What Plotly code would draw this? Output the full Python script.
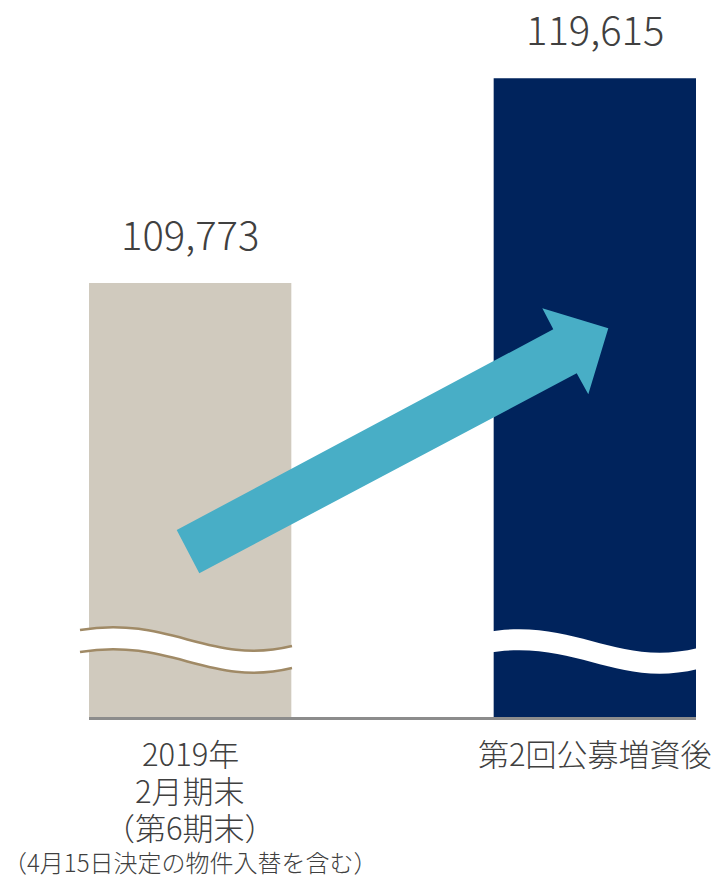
import plotly.graph_objects as go

# ---- data ----
category_lines = [["2019年", "2月期末", "（第6期末）", "（4月15日決定の物件入替を含む）"],
                  ["第2回公募増資後"]]
values = [109773, 119615]
value_labels = ["109,773", "119,615"]
bar_colors = ["#d0cabe", "#00235c"]

W, H = 719, 877
ML, MR, MT, MB = 89, 23, 0, 160
PW, PH = W - ML - MR, H - MT - MB

def px(x, y):
    """convert page pixel to paper coords"""
    return (x - ML) / PW, 1 - (y - MT) / PH

def path(cmds):
    out = []
    for c in cmds:
        if isinstance(c, str):
            out.append(c)
        else:
            xx, yy = px(*c)
            out.append(f"{xx:.5f},{yy:.5f}")
    return " ".join(out)

xs = list(range(len(values)))
fig = go.Figure()
fig.add_trace(go.Bar(x=xs, y=values, width=0.5, marker=dict(color=bar_colors, line=dict(width=0)),
                     hoverinfo="skip"))

FONT = "Noto Sans CJK JP Light, Noto Sans CJK JP"
TXT = "#404040"

for i, (v, t) in enumerate(zip(values, value_labels)):
    fig.add_annotation(x=i, y=v, xref="x", yref="y", text=t, showarrow=False,
                       yanchor="bottom", yshift=20, borderpad=0,
                       font=dict(family=FONT, size=40, color=TXT, weight=300))

# category labels, one annotation per line
for i, lines in enumerate(category_lines):
    for k, ln in enumerate(lines):
        last_small = (len(lines) > 1 and k == len(lines) - 1)
        fig.add_annotation(x=i, y=0, xref="x", yref="paper", text=ln, showarrow=False,
                           yanchor="middle", yshift=-(35 + 37 * k) + (2 if last_small else 0),
                           borderpad=0,
                           font=dict(family=FONT, size=24 if last_small else 31, color=TXT, weight=300))

shapes = []
def wave(x0, y0, dx=0, dy=0):
    return [(80 + dx, y0 + dy), (170 + dx, y0 - 15 + dy), (210 + dx, y0 + 36 + dy), (292 + dx, y0 + 16 + dy)]

def band(dx, dy, gap):
    a = wave(0, 630, dx, dy)
    b = wave(0, 630 + gap, dx, dy)
    return path(["M", a[0], "C", a[1], a[2], a[3], "L", b[3], "C", b[2], b[1], b[0], "Z"])

# wave break, left bar
shapes.append(dict(type="path", xref="paper", yref="paper", path=band(0, 0, 22),
                   fillcolor="white", line=dict(width=0)))
for g in (0, 22):
    a = wave(0, 630 + g)
    shapes.append(dict(type="path", xref="paper", yref="paper",
                       path=path(["M", a[0], "C", a[1], a[2], a[3]]),
                       line=dict(color="#a08a66", width=2.5)))
# wave break, right bar
shapes.append(dict(type="path", xref="paper", yref="paper", path=band(406, 2, 21),
                   fillcolor="white", line=dict(width=0)))

# arrow
arrow_pts = [(176.7, 530), (553.3, 329.3), (542.3, 308.3), (608.3, 328.3),
             (588.3, 394.3), (576.7, 373.3), (199.3, 573.3)]
cmds = ["M", arrow_pts[0]]
for p in arrow_pts[1:]:
    cmds += ["L", p]
cmds.append("Z")
shapes.append(dict(type="path", xref="paper", yref="paper", path=path(cmds),
                   fillcolor="#48aec6", line=dict(width=0)))

fig.update_layout(
    width=W, height=H, margin=dict(l=ML, r=MR, t=MT, b=MB, autoexpand=False),
    paper_bgcolor="white", plot_bgcolor="white", showlegend=False,
    shapes=shapes,
    xaxis=dict(range=[-0.25, 1.25], tickvals=xs, showticklabels=False, showgrid=False,
               zeroline=False, showline=True, linecolor="#8c8c8c", linewidth=3,
               ticks="", automargin=False, fixedrange=True),
    yaxis=dict(range=[88885, 123385], visible=False, fixedrange=True, automargin=False),
)
fig.write_html("out.html")
